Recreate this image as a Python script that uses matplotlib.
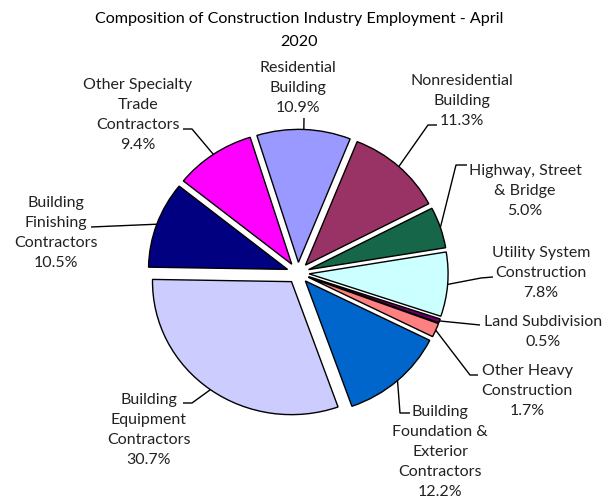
import matplotlib
matplotlib.use("Agg")
import matplotlib.pyplot as plt
import numpy as np

# ---- data ----
categories = ["Residential\nBuilding", "Nonresidential\nBuilding", "Highway, Street\n& Bridge",
              "Utility System\nConstruction", "Land Subdivision", "Other Heavy\nConstruction",
              "Building\nFoundation &\nExterior\nContractors", "Building\nEquipment\nContractors",
              "Building\nFinishing\nContractors", "Other Specialty\nTrade\nContractors"]
shares = [10.9, 11.3, 5.0, 7.8, 0.5, 1.7, 12.2, 30.7, 10.5, 9.4]
colors = ["#9999FF", "#993366", "#16664A", "#CCFFFF", "#660066", "#FF8080",
          "#0066CC", "#CCCCFF", "#000080", "#FF00FF"]
title = "Composition of Construction Industry Employment - April\n2020"

# ---- layout (pixels in a 603x500 canvas) ----
W, H = 603, 500
cx, cy, rx, ry = 298, 273, 139, 133
explode_amt = 0.08
start = 107.4
label_centers = [(298, 88), (462, 101), (525, 191), (541, 273), (543, 332),
                 (527, 391), (440, 452), (149, 430), (56, 233), (138, 115)]
leader_paths = [[(304, 118)], [(437, 125), (428, 125)], [(467, 165), (456, 165)],
                [(493, 277), (481, 278)], [(480, 325)], [(478, 375), (470, 375)],
                [(410, 413), (400, 413)], [(183, 403), (192, 403)], [(91, 227)],
                [(183, 129), (192, 129)]]

FONT = "Lato"
plt.rcParams["font.family"] = [FONT, "DejaVu Sans"]

fig = plt.figure(figsize=(W / 100, H / 100), dpi=100)
ax = fig.add_axes([0, 0, 1, 1])

wedges, _ = ax.pie(shares, colors=colors, startangle=start, counterclock=False,
                   explode=[explode_amt] * len(shares), radius=1,
                   wedgeprops=dict(edgecolor="black", linewidth=1.0))
ax.set_aspect("auto")
ax.set_xlim((0 - cx) / rx, (W - cx) / rx)
ax.set_ylim((cy - H) / ry, cy / ry)
ax.axis("off")


def p2d(px, py):
    return ((px - cx) / rx, (cy - py) / ry)


total = sum(shares)
for i, (cat, v) in enumerate(zip(categories, shares)):
    w = wedges[i]
    mid = np.deg2rad((w.theta1 + w.theta2) / 2)
    ax_pt = ((1 + explode_amt) * np.cos(mid), (1 + explode_amt) * np.sin(mid))
    pts = [p2d(*p) for p in leader_paths[i]] + [ax_pt]
    xs, ys = zip(*pts)
    ax.plot(xs, ys, color="black", lw=1.0, solid_capstyle="butt")
    lx, ly = p2d(*label_centers[i])
    ax.text(lx, ly, f"{cat}\n{v / total * 100:.1f}%", ha="center", va="center",
            fontsize=11.5, color="#222222", linespacing=1.53)

fig.text(299 / W, 1 - 30.5 / H, title, ha="center", va="center", fontsize=11.6,
         color="black", linespacing=1.75)

fig.savefig("out.png", dpi=100, facecolor="white")
